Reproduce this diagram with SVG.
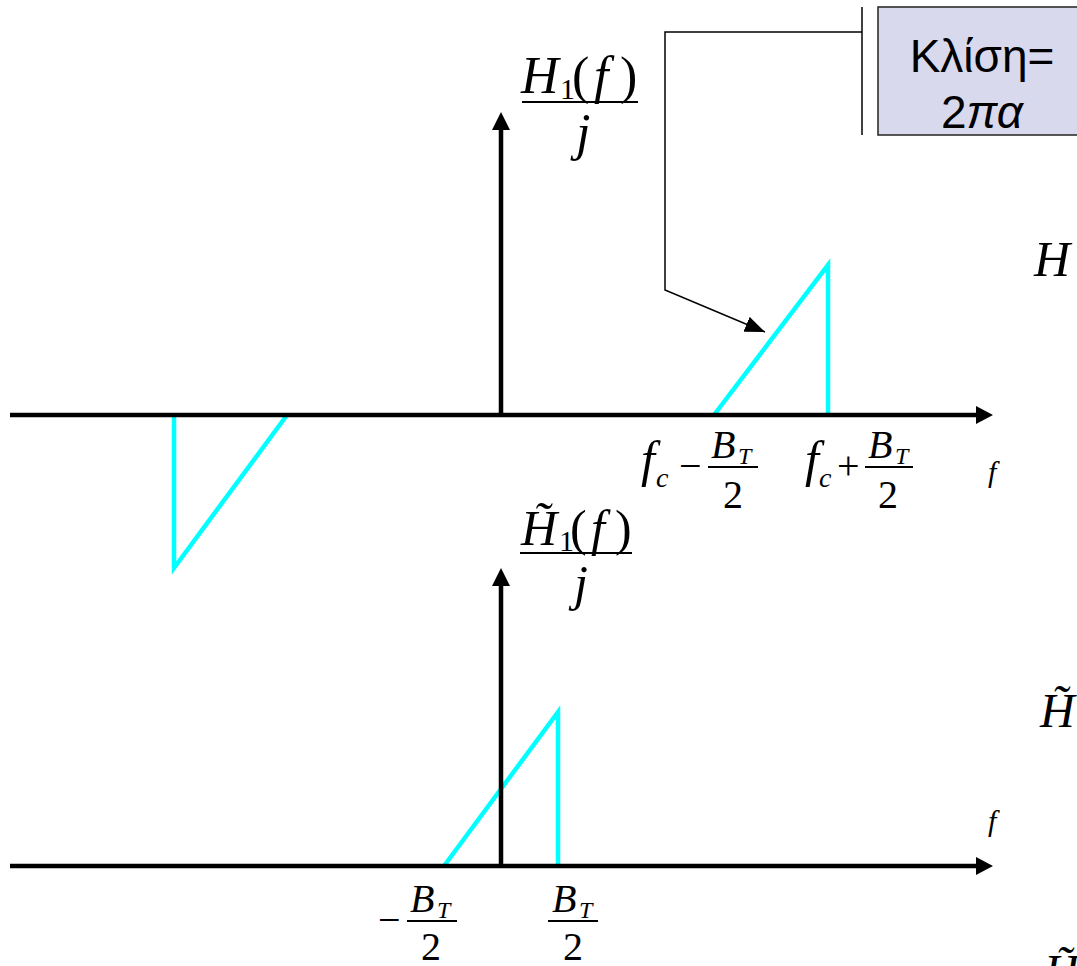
<svg xmlns="http://www.w3.org/2000/svg" width="1077" height="966" viewBox="0 0 1077 966">
<style>
.m{font-family:"Liberation Serif",serif;fill:#000}
.i{font-style:italic}
.ax{stroke:#000;stroke-width:4.5;fill:none}
.cy{stroke:#00FFFF;stroke-width:4.5;fill:none;stroke-linejoin:miter}
.fl{stroke:#000;stroke-width:2}
.ln{stroke:#000;stroke-width:1.5;fill:none}
.gk{font-family:"Liberation Sans",Arial,sans-serif;font-size:46px;fill:#000}
</style>
<defs>
<marker id="ah" viewBox="0 0 10 10" refX="10" refY="5" markerWidth="20" markerHeight="16" markerUnits="userSpaceOnUse" orient="auto" preserveAspectRatio="none"><path d="M0,0 L10,5 L0,10 z" fill="#000"/></marker>
</defs>
<rect width="1077" height="966" fill="#fff"/>
<g id="plot-top">
<polyline class="cy" points="174,415 174,568 287,415"/>
<polyline class="cy" points="714,415 828,265 828,415"/>
<line class="ax" x1="10" y1="415" x2="978" y2="415"/>
<polygon points="976,406 993,415 976,424" fill="#000"/>
<line class="ax" x1="501" y1="415" x2="501" y2="128"/>
<polygon points="492,130 501,112 510,130" fill="#000"/>
</g>
<g id="plot-bottom">
<polyline class="cy" points="444,866 558,712 558,866"/>
<line class="ax" x1="10" y1="866" x2="978" y2="866"/>
<polygon points="976,857 993,866 976,875" fill="#000"/>
<line class="ax" x1="501" y1="866" x2="501" y2="584"/>
<polygon points="492,586 501,568 510,586" fill="#000"/>
</g>
<g id="label-H1">
<text class="m i" x="521" y="93" font-size="52">H</text>
<text class="m" x="560" y="99" font-size="30">1</text>
<text class="m" x="572" y="93" font-size="52">(</text>
<text class="m i" x="594" y="93" font-size="52">f</text>
<text class="m" x="620" y="93" font-size="52">)</text>
<line class="fl" x1="522" y1="102" x2="638" y2="102"/>
<text class="m i" x="576" y="150" font-size="52">j</text>
</g>
<g id="label-H1t">
<text class="m i" x="521" y="545" font-size="50">H&#771;</text>
<text class="m" x="559" y="551" font-size="30">1</text>
<text class="m" x="570" y="545" font-size="50">(</text>
<text class="m i" x="591" y="545" font-size="50">f</text>
<text class="m" x="615" y="545" font-size="50">)</text>
<line class="fl" x1="520" y1="553" x2="632" y2="553"/>
<text class="m i" x="574" y="600" font-size="50">j</text>
</g>
<g id="label-fc-minus">
<text class="m i" x="641" y="476" font-size="50">f</text>
<text class="m i" x="656" y="487" font-size="28">c</text>
<text class="m" x="679" y="479" font-size="40">−</text>
<text class="m i" x="711" y="458" font-size="40">B</text>
<text class="m i" x="738" y="464" font-size="24">T</text>
<line class="fl" x1="708" y1="467" x2="758" y2="467"/>
<text class="m" x="723" y="508" font-size="40">2</text>
</g>
<g id="label-fc-plus">
<text class="m i" x="805" y="476" font-size="50">f</text>
<text class="m i" x="819" y="487" font-size="28">c</text>
<text class="m" x="837" y="479" font-size="40">+</text>
<text class="m i" x="868" y="458" font-size="40">B</text>
<text class="m i" x="895" y="464" font-size="24">T</text>
<line class="fl" x1="865" y1="467" x2="913" y2="467"/>
<text class="m" x="878" y="508" font-size="40">2</text>
</g>
<g id="label-neg-bt">
<text class="m" x="378" y="933" font-size="40">−</text>
<text class="m i" x="410" y="912" font-size="40">B</text>
<text class="m i" x="437" y="918" font-size="24">T</text>
<line class="fl" x1="407" y1="921" x2="457" y2="921"/>
<text class="m" x="421" y="960" font-size="40">2</text>
</g>
<g id="label-pos-bt">
<text class="m i" x="552" y="912" font-size="40">B</text>
<text class="m i" x="579" y="918" font-size="24">T</text>
<line class="fl" x1="548" y1="921" x2="598" y2="921"/>
<text class="m" x="563" y="960" font-size="40">2</text>
</g>
<g id="axis-labels">
<text class="m i" x="988" y="482" font-size="30">f</text>
<text class="m i" x="988" y="831" font-size="30">f</text>
</g>
<g id="right-text">
<text class="m i" x="1034" y="276" font-size="50">H</text>
<text class="m i" x="1040" y="727" font-size="48">H&#771;</text>
<text class="m i" x="1044" y="988" font-size="48">H&#771;</text>
</g>
<g id="callout">
<rect x="878" y="7" width="210" height="128" fill="#D9D9EE" stroke="#222" stroke-width="1.5"/>
<text class="gk" x="982" y="72" text-anchor="middle">Κλίση=</text>
<text class="gk" x="982" y="128" text-anchor="middle">2<tspan font-style="italic">πα</tspan></text>
</g>
<g id="connectors">
<line class="ln" x1="862" y1="7" x2="862" y2="135"/>
<polyline class="ln" points="862,32 665,32 665,290 765,332" marker-end="url(#ah)"/>
</g>
</svg>
